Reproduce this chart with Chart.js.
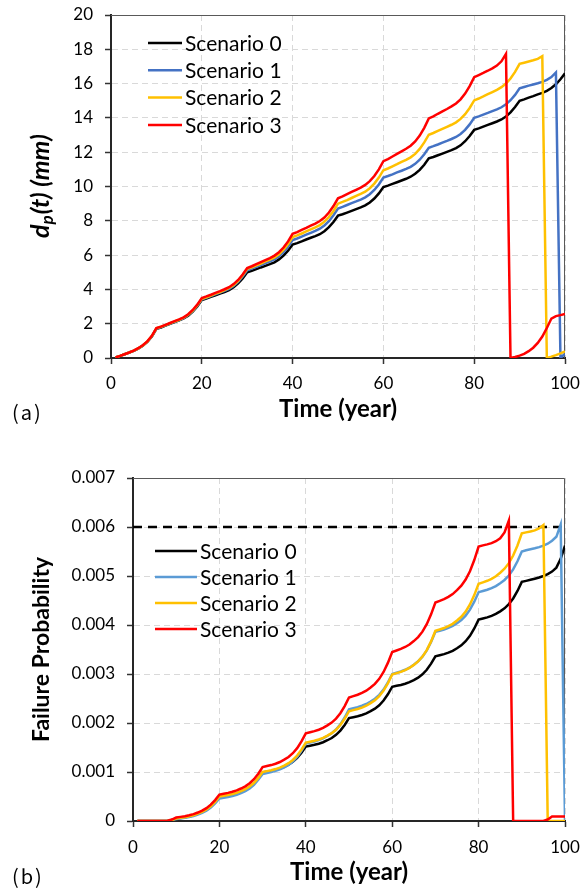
<!DOCTYPE html>
<html>
<head>
<meta charset="utf-8">
<script src="https://cdn.jsdelivr.net/npm/chart.js@4.4.0/dist/chart.umd.min.js"></script>
<style>
body{margin:0;background:#fff;}
#wrap{position:relative;width:580px;height:891px;}
canvas{position:absolute;left:0;}
.tag{position:absolute;left:12px;font:20px "Noto Sans CJK JP";letter-spacing:2px;color:#000;line-height:24px;}
</style>
</head>
<body>
<div id="wrap">
<canvas id="chartA" width="580" height="445" style="top:0"></canvas>
<canvas id="chartB" width="580" height="446" style="top:445px"></canvas>
<div class="tag" style="top:400px">(a)</div>
<div class="tag" style="top:864px">(b)</div>
</div>
<script>
var years = Array.from({length: 100}, function (_, i) { return i + 1; });
var scenarioNames = ['Scenario 0', 'Scenario 1', 'Scenario 2', 'Scenario 3'];

// (a) pit depth d_p(t), mm
var depthS0 = [0.03,0.12,0.22,0.31,0.42,0.55,0.72,0.94,1.25,1.70,
  1.78,1.89,1.99,2.09,2.19,2.31,2.47,2.71,3.01,3.38,
  3.46,3.56,3.66,3.75,3.85,3.96,4.13,4.35,4.64,5.00,
  5.08,5.18,5.28,5.37,5.47,5.58,5.75,5.97,6.26,6.62,
  6.70,6.80,6.91,7.01,7.11,7.22,7.39,7.63,7.93,8.30,
  8.38,8.48,8.58,8.68,8.78,8.90,9.07,9.30,9.60,9.97,
  10.05,10.15,10.25,10.35,10.45,10.57,10.74,10.97,11.27,11.64,
  11.72,11.82,11.92,12.02,12.12,12.24,12.40,12.64,12.94,13.30,
  13.39,13.49,13.59,13.69,13.79,13.91,14.08,14.32,14.63,15.00,
  15.08,15.18,15.27,15.37,15.46,15.58,15.74,15.96,16.25,16.60];
var depthS1 = [0.03,0.12,0.22,0.32,0.43,0.56,0.73,0.95,1.27,1.72,
  1.81,1.91,2.01,2.11,2.21,2.33,2.50,2.74,3.05,3.42,
  3.51,3.61,3.71,3.81,3.91,4.03,4.20,4.44,4.75,5.12,
  5.21,5.31,5.42,5.53,5.63,5.75,5.93,6.18,6.49,6.88,
  6.97,7.08,7.19,7.30,7.41,7.54,7.73,7.98,8.32,8.72,
  8.81,8.92,9.03,9.13,9.24,9.37,9.55,9.80,10.12,10.52,
  10.61,10.71,10.82,10.92,11.03,11.15,11.32,11.56,11.88,12.26,
  12.35,12.45,12.56,12.66,12.77,12.89,13.06,13.30,13.62,14.00,
  14.09,14.19,14.29,14.40,14.50,14.62,14.79,15.03,15.34,15.72,
  15.80,15.88,15.95,16.02,16.10,16.22,16.38,16.65,0.00,0.25];
var depthS2 = [0.03,0.12,0.22,0.32,0.43,0.56,0.73,0.96,1.28,1.73,
  1.82,1.92,2.02,2.13,2.23,2.35,2.52,2.76,3.07,3.45,
  3.54,3.64,3.75,3.85,3.96,4.08,4.26,4.50,4.82,5.20,
  5.29,5.40,5.51,5.63,5.74,5.87,6.05,6.31,6.64,7.05,
  7.15,7.26,7.38,7.50,7.62,7.75,7.95,8.22,8.57,9.00,
  9.10,9.21,9.33,9.45,9.57,9.70,9.90,10.17,10.52,10.95,
  11.05,11.18,11.30,11.43,11.55,11.70,11.90,12.19,12.57,13.02,
  13.12,13.24,13.36,13.48,13.60,13.74,13.94,14.22,14.58,15.02,
  15.13,15.25,15.38,15.51,15.64,15.79,16.00,16.30,16.68,17.15,
  17.22,17.29,17.36,17.44,17.60,0.00,0.08,0.17,0.27,0.38];
var depthS3 = [0.03,0.12,0.22,0.32,0.43,0.57,0.74,0.97,1.29,1.74,
  1.83,1.93,2.04,2.15,2.25,2.37,2.55,2.80,3.11,3.50,
  3.59,3.69,3.80,3.90,4.01,4.13,4.31,4.55,4.87,5.25,
  5.35,5.47,5.59,5.71,5.83,5.97,6.17,6.44,6.80,7.24,
  7.34,7.47,7.59,7.72,7.84,7.99,8.19,8.48,8.86,9.31,
  9.42,9.55,9.68,9.81,9.94,10.09,10.31,10.61,11.00,11.48,
  11.60,11.75,11.90,12.05,12.20,12.38,12.63,12.97,13.42,13.97,
  14.09,14.24,14.38,14.52,14.67,14.84,15.08,15.42,15.85,16.38,
  16.50,16.62,16.75,16.89,17.05,17.30,17.73,0.00,0.06,0.14,
  0.24,0.40,0.60,0.88,1.25,1.75,2.30,2.44,2.50,2.57];

// (b) failure probability
var probS0 = [0,0,0,0,0,0,0,0,0.00002,0.00005,
  0.000063,0.000076,0.000093,0.000115,0.000145,0.000179,0.000226,0.000291,0.000377,0.00048,
  0.000495,0.000511,0.000531,0.000557,0.000592,0.000633,0.000689,0.000766,0.000868,0.00099,
  0.001006,0.001022,0.001043,0.00107,0.001107,0.001149,0.001207,0.001287,0.001393,0.00152,
  0.001537,0.001555,0.001578,0.001607,0.001648,0.001694,0.001758,0.001845,0.001961,0.0021,
  0.002119,0.002138,0.002164,0.002196,0.002241,0.002292,0.002362,0.002458,0.002586,0.00274,
  0.002759,0.002777,0.002802,0.002833,0.002876,0.002926,0.002994,0.003087,0.003211,0.00336,
  0.003383,0.003405,0.003435,0.003473,0.003525,0.003585,0.003668,0.00378,0.00393,0.00411,
  0.004133,0.004156,0.004187,0.004226,0.004279,0.004341,0.004426,0.004541,0.004695,0.00488,
  0.0049,0.004922,0.004945,0.00497,0.005,0.00504,0.00509,0.00517,0.00535,0.00562];
var probS1 = [0,0,0,0,0,0,0,0,0.00002,0.00004,
  0.000053,0.000065,0.000082,0.000103,0.000132,0.000166,0.000212,0.000275,0.000359,0.00046,
  0.000475,0.00049,0.00051,0.000535,0.00057,0.00061,0.000665,0.00074,0.00084,0.00096,
  0.000979,0.000997,0.001022,0.001053,0.001096,0.001146,0.001214,0.001307,0.001431,0.00158,
  0.001601,0.001622,0.00165,0.001685,0.001734,0.00179,0.001867,0.001972,0.002112,0.00228,
  0.002302,0.002323,0.002352,0.002388,0.002438,0.002496,0.002575,0.002683,0.002827,0.003,
  0.003026,0.003052,0.003086,0.003129,0.003189,0.003258,0.003353,0.003482,0.003654,0.00386,
  0.003884,0.003909,0.003941,0.003982,0.004038,0.004103,0.004192,0.004314,0.004476,0.00467,
  0.004695,0.00472,0.004753,0.004795,0.004853,0.004919,0.00501,0.005135,0.005301,0.0055,
  0.005525,0.005545,0.005565,0.00559,0.00562,0.00566,0.00572,0.0058,0.00605,0];
var probS2 = [0,0,0,0,0,0,0,0,0.00002,0.00005,
  0.000064,0.000077,0.000095,0.000118,0.000149,0.000185,0.000235,0.000302,0.000392,0.0005,
  0.000515,0.00053,0.00055,0.000575,0.00061,0.00065,0.000705,0.00078,0.00088,0.001,
  0.001018,0.001036,0.00106,0.00109,0.001132,0.00118,0.001246,0.001336,0.001456,0.0016,
  0.001619,0.001638,0.001664,0.001696,0.001741,0.001792,0.001862,0.001958,0.002086,0.00224,
  0.002263,0.002285,0.002315,0.002353,0.002405,0.002465,0.002548,0.00266,0.00281,0.00299,
  0.003017,0.003043,0.003079,0.003124,0.003186,0.003257,0.003355,0.003488,0.003666,0.00388,
  0.003909,0.003938,0.003976,0.004024,0.004091,0.004168,0.004274,0.004418,0.00461,0.00484,
  0.004871,0.004902,0.004943,0.004995,0.005067,0.005149,0.005262,0.005417,0.005623,0.00587,
  0.00589,0.00591,0.00593,0.00597,0.00604,0,0,0,0,0];
var probS3 = [0,0,0,0,0,0,0,0.000005,0.00003,0.00007,
  0.000084,0.000098,0.000117,0.000141,0.000173,0.000211,0.000263,0.000333,0.000427,0.00054,
  0.000557,0.000574,0.000596,0.000624,0.000663,0.000708,0.00077,0.000854,0.000966,0.0011,
  0.001121,0.001141,0.001169,0.001204,0.001252,0.001307,0.001383,0.001486,0.001624,0.00179,
  0.001812,0.001834,0.001863,0.0019,0.001951,0.002009,0.002089,0.002199,0.002345,0.00252,
  0.002548,0.002576,0.002613,0.00266,0.002725,0.002799,0.002901,0.003041,0.003227,0.00345,
  0.00348,0.003511,0.003551,0.003602,0.003672,0.003753,0.003864,0.004016,0.004218,0.00446,
  0.004494,0.004528,0.004574,0.004631,0.004711,0.004802,0.004927,0.005098,0.005326,0.0056,
  0.005625,0.005645,0.00567,0.00571,0.00577,0.00589,0.00613,0,0,0,
  0,0,0,0,0,0.00003,0.00009,0.00009,0.00009,0.00009];
var probLimit = 0.006;

function pairs(vals) {
  return vals.map(function (v, i) { return {x: years[i], y: v}; });
}

// top + right edges of the plot box
var framePlugin = {
  id: 'frame',
  beforeDatasetsDraw: function (chart) {
    var a = chart.chartArea, ctx = chart.ctx;
    ctx.save();
    ctx.strokeStyle = '#595959';
    ctx.lineWidth = 1;
    ctx.setLineDash([]);
    ctx.beginPath();
    ctx.moveTo(a.left, a.top + 0.5);
    ctx.lineTo(a.right - 0.5, a.top + 0.5);
    ctx.lineTo(a.right - 0.5, a.bottom);
    ctx.stroke();
    ctx.restore();
  }
};

var boxLegend = {
  id: 'boxLegend',
  afterDraw: function (chart, args, opts) {
    var ctx = chart.ctx, row = 0;
    ctx.save();
    ctx.font = '21px Lato';
    ctx.textBaseline = 'middle';
    ctx.fillStyle = '#000';
    chart.data.datasets.forEach(function (ds) {
      if (!ds.label) return;
      var y = opts.y + row * opts.rowH;
      ctx.strokeStyle = ds.borderColor;
      ctx.lineWidth = 2.5;
      ctx.setLineDash([]);
      ctx.beginPath();
      ctx.moveTo(opts.x, y);
      ctx.lineTo(opts.x + opts.len, y);
      ctx.stroke();
      ctx.fillText(ds.label, opts.x + opts.len + 3, y + 1);
      row++;
    });
    ctx.restore();
  }
};

// y title with subscript: d_p(t) (mm)
var depthTitle = {
  id: 'depthTitle',
  afterDraw: function (chart, args, opts) {
    var ctx = chart.ctx, a = chart.chartArea;
    var big = 'italic bold 25px Lato', small = 'italic bold 17px Lato';
    ctx.save();
    ctx.translate(opts.x, (a.top + a.bottom) / 2);
    ctx.rotate(-Math.PI / 2);
    ctx.fillStyle = '#000';
    ctx.textBaseline = 'middle';
    ctx.font = big;
    var w1 = ctx.measureText('d').width, w3 = ctx.measureText('(t) (mm)').width;
    ctx.font = small;
    var w2 = ctx.measureText('p').width;
    var x = -(w1 + w2 + w3) / 2;
    ctx.font = big;
    ctx.fillText('d', x, 0);
    ctx.font = small;
    ctx.fillText('p', x + w1, 7);
    ctx.font = big;
    ctx.fillText('(t) (mm)', x + w1 + w2 + 1, 0);
    ctx.restore();
  }
};

function xScale(padBottom, labelPad, height) {
  return {
    type: 'linear', min: 0, max: 100,
    ticks: {stepSize: 20, padding: labelPad, color: '#000', maxRotation: 0, font: {family: 'Lato', size: 17}},
    grid: {color: '#d9d9d9', tickColor: '#333', tickLength: 6, tickWidth: 1.5},
    border: {color: '#262626', width: 2, dash: [6, 4]},
    title: {display: true, text: 'Time (year)', color: '#000',
      font: {family: 'Lato', size: 24, weight: 'bold'}, padding: {top: 0, bottom: padBottom}},
    afterFit: function (s) { s.height = height; s.paddingLeft = 0; s.paddingRight = 0; }
  };
}

var ctxA = document.getElementById('chartA');
new Chart(ctxA, {
  type: 'line',
  data: {
    datasets: [
      {label: scenarioNames[0], data: pairs(depthS0), borderColor: '#000000', order: 3},
      {label: scenarioNames[1], data: pairs(depthS1), borderColor: '#4472C4', order: 2},
      {label: scenarioNames[2], data: pairs(depthS2), borderColor: '#FFC000', order: 1},
      {label: scenarioNames[3], data: pairs(depthS3), borderColor: '#FF0000', order: 0}
    ]
  },
  options: {
    responsive: false,
    animation: false,
    layout: {padding: {top: 15, right: 15, left: 0, bottom: 0}},
    elements: {point: {radius: 0}, line: {borderWidth: 2.5, tension: 0}},
    plugins: {
      legend: {display: false},
      tooltip: {enabled: false},
      boxLegend: {x: 148, y: 43, len: 34, rowH: 27.3},
      depthTitle: {x: 41}
    },
    scales: {
      x: xScale(21, 9, 87),
      y: {
        min: 0, max: 20,
        ticks: {stepSize: 2, padding: 12, color: '#000', font: {family: 'Lato', size: 17}},
        grid: {color: '#d9d9d9', tickColor: '#333', tickLength: 6, tickWidth: 1.5},
        border: {color: '#262626', width: 2, dash: [6, 4]},
        afterFit: function (s) { s.width = 111; s.paddingTop = 0; s.paddingBottom = 0; }
      }
    }
  },
  plugins: [framePlugin, boxLegend, depthTitle]
});

var ctxB = document.getElementById('chartB');
new Chart(ctxB, {
  type: 'line',
  data: {
    datasets: [
      {label: scenarioNames[0], data: pairs(probS0), borderColor: '#000000', order: 3},
      {label: scenarioNames[1], data: pairs(probS1), borderColor: '#5B9BD5', order: 2},
      {label: scenarioNames[2], data: pairs(probS2), borderColor: '#FFC000', order: 1},
      {label: scenarioNames[3], data: pairs(probS3), borderColor: '#FF0000', order: 0},
      {label: '', data: [{x: 0, y: probLimit}, {x: 100, y: probLimit}],
        borderColor: '#000000', borderDash: [9, 6], order: 5}
    ]
  },
  options: {
    responsive: false,
    animation: false,
    layout: {padding: {top: 33, right: 15, left: 0, bottom: 0}},
    elements: {point: {radius: 0}, line: {borderWidth: 2.5, tension: 0}},
    plugins: {
      legend: {display: false},
      tooltip: {enabled: false},
      boxLegend: {x: 155, y: 106, len: 42, rowH: 26}
    },
    scales: {
      x: xScale(4, 10, 70),
      y: {
        min: 0, max: 0.007,
        ticks: {stepSize: 0.001, padding: 12, color: '#000', font: {family: 'Lato', size: 17},
          callback: function (v) { return v === 0 ? '0' : v.toFixed(3); }},
        grid: {color: '#d9d9d9', tickColor: '#333', tickLength: 6, tickWidth: 1.5},
        border: {color: '#262626', width: 2, dash: [6, 4]},
        title: {display: true, text: 'Failure Probability', color: '#000',
          font: {family: 'Lato', size: 23, weight: 'bold'}, padding: {top: 28, bottom: 0}},
        afterFit: function (s) { s.width = 133; s.paddingTop = 0; s.paddingBottom = 0; }
      }
    }
  },
  plugins: [framePlugin, boxLegend]
});
</script>
</body>
</html>
